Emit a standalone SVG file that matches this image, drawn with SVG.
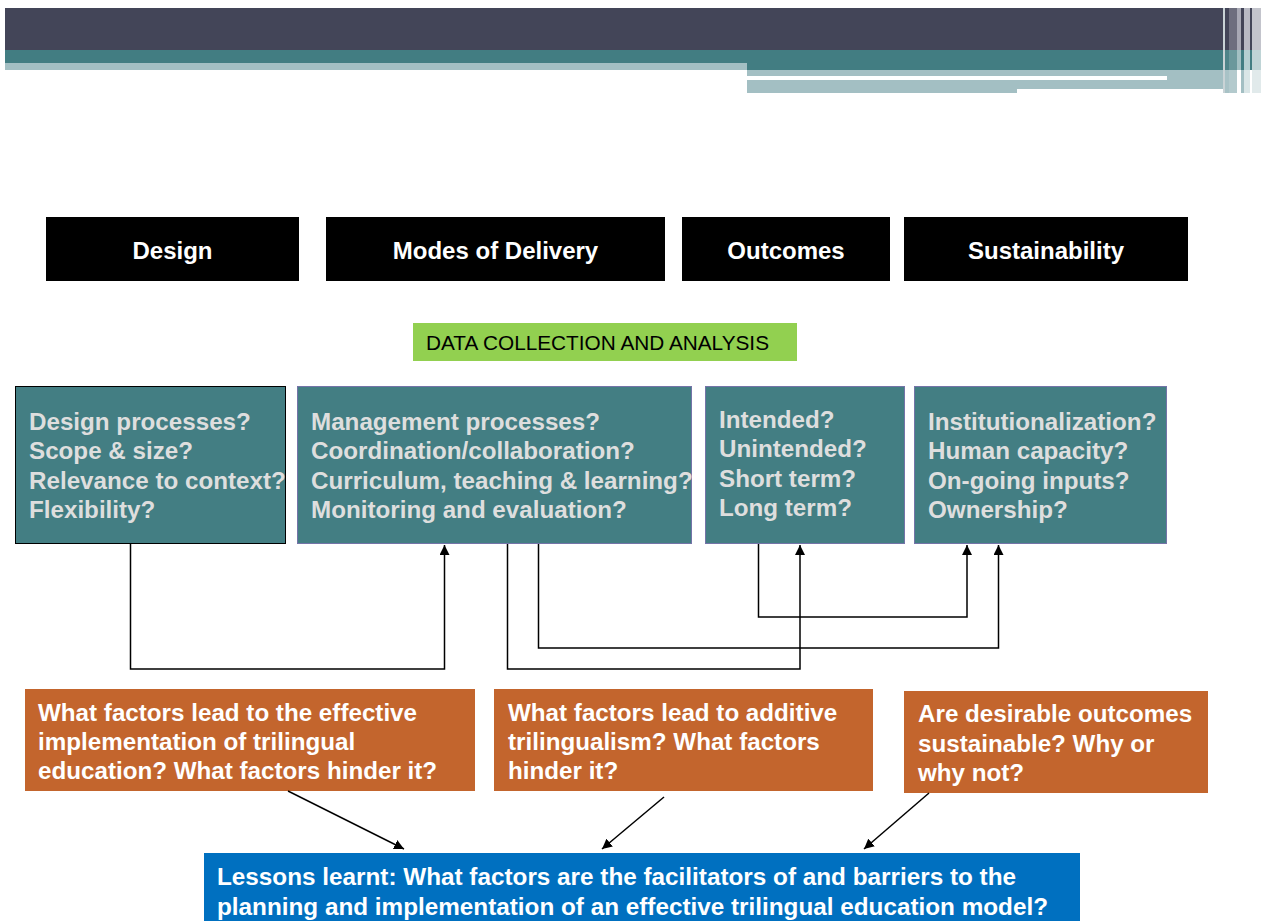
<svg xmlns="http://www.w3.org/2000/svg" width="1261" height="921" viewBox="0 0 1261 921">
  <style>
    .hdr { fill: #000000; }
    .hdr-t { font-family: "Liberation Sans", Arial, sans-serif; font-weight: bold; font-size: 24px; fill: #ffffff; text-anchor: middle; }
    .q { fill: #437e83; }
    .q-t { font-family: "Liberation Sans", Arial, sans-serif; font-weight: bold; font-size: 24.2px; fill: #dedede; }
    .o { fill: #c3652d; }
    .w-t { font-family: "Liberation Sans", Arial, sans-serif; font-weight: bold; font-size: 24.2px; fill: #ffffff; }
    .conn { fill: none; stroke: #000000; stroke-width: 1.5; }
  </style>
  <defs>
    <marker id="arrow" viewBox="0 0 10 10" refX="10" refY="5" markerWidth="10" markerHeight="10" markerUnits="userSpaceOnUse" orient="auto">
      <path d="M0,0 L10,5 L0,10 z" fill="#000000"/>
    </marker>
  </defs>

  <rect width="1261" height="921" fill="#ffffff"/>

  <!-- title banner -->
  <g id="banner">
    <rect x="5" y="8" width="1218" height="42" fill="#434558"/>
    <rect x="5" y="50" width="1218" height="13" fill="#427d82"/>
    <rect x="5" y="63" width="742" height="7" fill="#a3bfc3"/>
    <rect x="747" y="63" width="476" height="7" fill="#427d82"/>
    <rect x="747" y="70" width="490" height="23" fill="#a3bfc3"/>
    <rect x="747" y="76" width="420" height="4" fill="#ffffff"/>
    <rect x="1017" y="89" width="220" height="4" fill="#ffffff"/>
    <!-- fading stripes at the right end -->
    <rect x="1223" y="8" width="2" height="85" fill="#c9d3d6"/>
    <rect x="1225" y="8" width="4" height="42" fill="#434558"/>
    <rect x="1225" y="50" width="4" height="20" fill="#4f8489"/>
    <rect x="1225" y="70" width="4" height="23" fill="#a8c2c6"/>
    <rect x="1229" y="8" width="8" height="42" fill="#6d6e7e"/>
    <rect x="1229" y="50" width="8" height="20" fill="#6b989c"/>
    <rect x="1229" y="70" width="8" height="23" fill="#b3cacd"/>
    <rect x="1237" y="8" width="4" height="42" fill="#a7a8b4"/>
    <rect x="1237" y="50" width="4" height="20" fill="#a3c0c3"/>
    <rect x="1241" y="8" width="3" height="42" fill="#434558"/>
    <rect x="1241" y="50" width="3" height="20" fill="#427d82"/>
    <rect x="1241" y="70" width="3" height="23" fill="#a3bfc3"/>
    <rect x="1244" y="8" width="6" height="42" fill="#b9bac4"/>
    <rect x="1244" y="50" width="6" height="20" fill="#b5cfd1"/>
    <rect x="1244" y="70" width="6" height="23" fill="#dae6e7"/>
    <rect x="1250" y="8" width="2" height="42" fill="#434558"/>
    <rect x="1250" y="50" width="2" height="20" fill="#427d82"/>
    <rect x="1252" y="8" width="9" height="42" fill="#c3c4cc"/>
    <rect x="1252" y="50" width="9" height="20" fill="#bfd4d6"/>
    <rect x="1252" y="70" width="9" height="23" fill="#e1eaeb"/>
  </g>

  <!-- column headers -->
  <g id="hdr-design">
    <rect class="hdr" x="46" y="217" width="253" height="64"/>
    <text class="hdr-t" x="172.5" y="259">Design</text>
  </g>
  <g id="hdr-delivery">
    <rect class="hdr" x="326" y="217" width="339" height="64"/>
    <text class="hdr-t" x="495.5" y="259">Modes of Delivery</text>
  </g>
  <g id="hdr-outcomes">
    <rect class="hdr" x="682" y="217" width="208" height="64"/>
    <text class="hdr-t" x="786" y="259">Outcomes</text>
  </g>
  <g id="hdr-sustain">
    <rect class="hdr" x="904" y="217" width="284" height="64"/>
    <text class="hdr-t" x="1046" y="259">Sustainability</text>
  </g>

  <!-- data collection label -->
  <g id="data-label">
    <rect x="413" y="323" width="384" height="38" fill="#92d050"/>
    <text x="426" y="350" font-family="'Liberation Sans', Arial, sans-serif" font-size="20.4" fill="#000000" textLength="343" lengthAdjust="spacingAndGlyphs">DATA COLLECTION AND ANALYSIS</text>
  </g>

  <!-- question boxes -->
  <g id="box-design">
    <rect class="q" x="15.5" y="386.5" width="270" height="157" stroke="#000000" stroke-width="1"/>
    <text class="q-t" x="29" y="430">Design processes?</text>
    <text class="q-t" x="29" y="459">Scope &amp; size?</text>
    <text class="q-t" x="29" y="489">Relevance to context?</text>
    <text class="q-t" x="29" y="518">Flexibility?</text>
  </g>
  <g id="box-delivery">
    <rect class="q" x="297.5" y="386.5" width="394" height="157" stroke="#7474a8" stroke-width="1"/>
    <text class="q-t" x="311" y="430">Management processes?</text>
    <text class="q-t" x="311" y="459">Coordination/collaboration?</text>
    <text class="q-t" x="311" y="489">Curriculum, teaching &amp; learning?</text>
    <text class="q-t" x="311" y="518">Monitoring and evaluation?</text>
  </g>
  <g id="box-outcomes">
    <rect class="q" x="705.5" y="386.5" width="199" height="157" stroke="#7474a8" stroke-width="1"/>
    <text class="q-t" x="719" y="428">Intended?</text>
    <text class="q-t" x="719" y="457">Unintended?</text>
    <text class="q-t" x="719" y="487">Short term?</text>
    <text class="q-t" x="719" y="516">Long term?</text>
  </g>
  <g id="box-sustain">
    <rect class="q" x="914.5" y="386.5" width="252" height="157" stroke="#7474a8" stroke-width="1"/>
    <text class="q-t" x="928" y="430">Institutionalization?</text>
    <text class="q-t" x="928" y="459">Human capacity?</text>
    <text class="q-t" x="928" y="489">On-going inputs?</text>
    <text class="q-t" x="928" y="518">Ownership?</text>
  </g>

  <!-- guiding questions -->
  <g id="q-implementation">
    <rect class="o" x="25" y="689" width="450" height="102"/>
    <text class="w-t" x="38" y="721">What factors lead to the effective</text>
    <text class="w-t" x="38" y="750">implementation of trilingual</text>
    <text class="w-t" x="38" y="779">education? What factors hinder it?</text>
  </g>
  <g id="q-trilingualism">
    <rect class="o" x="494" y="689" width="379" height="102"/>
    <text class="w-t" x="508" y="721">What factors lead to additive</text>
    <text class="w-t" x="508" y="750">trilingualism? What factors</text>
    <text class="w-t" x="508" y="779">hinder it?</text>
  </g>
  <g id="q-sustainable">
    <rect class="o" x="904" y="691" width="304" height="102"/>
    <text class="w-t" x="918" y="722">Are desirable outcomes</text>
    <text class="w-t" x="918" y="752">sustainable? Why or</text>
    <text class="w-t" x="918" y="781">why not?</text>
  </g>

  <!-- lessons learnt -->
  <g id="lessons">
    <rect x="204" y="853" width="876" height="68" fill="#0070c0"/>
    <text class="w-t" x="217" y="885" textLength="799" lengthAdjust="spacingAndGlyphs">Lessons learnt: What factors are the facilitators of and barriers to the</text>
    <text class="w-t" x="217" y="915" textLength="831" lengthAdjust="spacingAndGlyphs">planning and implementation of an effective trilingual education model?</text>
  </g>

  <!-- connectors -->
  <g id="connectors">
    <polyline class="conn" points="130.5,544 130.5,669 444.5,669 444.5,545" marker-end="url(#arrow)"/>
    <polyline class="conn" points="507.5,544 507.5,669 800,669 800,545" marker-end="url(#arrow)"/>
    <polyline class="conn" points="538.5,544 538.5,648 998.5,648 998.5,545" marker-end="url(#arrow)"/>
    <polyline class="conn" points="758.5,544 758.5,617 967,617 967,545" marker-end="url(#arrow)"/>
    <line class="conn" x1="288" y1="791" x2="404" y2="849" marker-end="url(#arrow)"/>
    <line class="conn" x1="664" y1="797" x2="602" y2="849" marker-end="url(#arrow)"/>
    <line class="conn" x1="929" y1="793" x2="864" y2="849" marker-end="url(#arrow)"/>
  </g>
</svg>
